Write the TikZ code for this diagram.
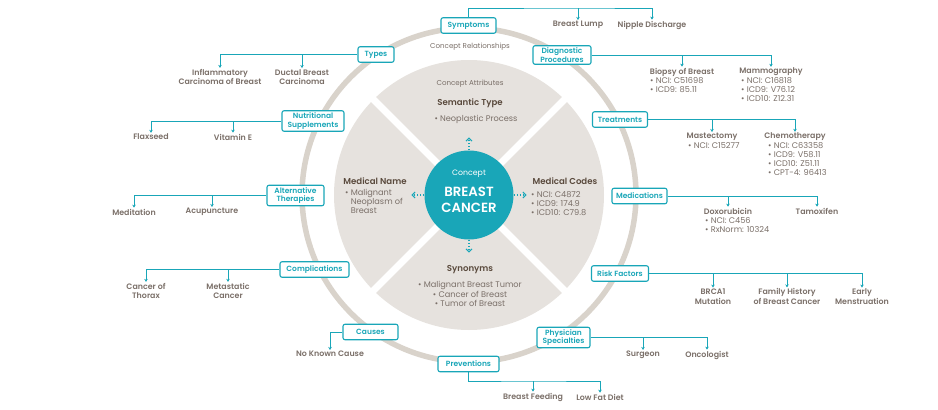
\documentclass[tikz,border=0pt]{standalone}
\usepackage{fontspec}
\setmainfont{Poppins}[BoldFont={Poppins SemiBold}]
\usetikzlibrary{arrows.meta,calc}
\definecolor{tealc}{HTML}{19A6B8}
\definecolor{discc}{HTML}{E6E2DE}
\definecolor{ringc}{HTML}{D9D3CB}
\definecolor{itemc}{HTML}{7A6F68}
\definecolor{headc}{HTML}{5A4A3D}
\begin{document}
\begin{tikzpicture}[x=1pt,y=-1pt,
 box/.style={draw=tealc, fill=white, line width=1.1pt, rounded corners=2pt, text=tealc,
   font=\fontsize{7.5}{8.6}\selectfont\bfseries, align=center, inner xsep=2pt, inner ysep=2pt, minimum height=15.5pt},
 item/.style={text=itemc, font=\fontsize{7.9}{9.6}\selectfont\bfseries, align=center, inner sep=1pt},
 bul/.style={text=itemc, font=\fontsize{8.2}{8.9}\selectfont, align=left, inner sep=0pt, anchor=north west},
 bulc/.style={text=itemc, font=\fontsize{8.2}{9.4}\selectfont, align=center, inner sep=0pt},
 small/.style={text=itemc, font=\fontsize{7.1}{8}\selectfont, inner sep=0pt},
 head/.style={text=headc, font=\fontsize{8.6}{9.5}\selectfont\bfseries, inner sep=0pt},
 conn/.style={draw=tealc, line width=0.9pt},
 arr/.style={conn, -{Stealth[length=3pt,width=3.5pt]}},
 dotarr/.style={draw=tealc, line width=1.1pt, dotted, -{Straight Barb[length=3pt,width=6pt]}}
]
\useasboundingbox (0,0) rectangle (938,410);
% ring and disc
\draw[ringc, line width=5.5pt] (469,195) circle[radius=167];
\fill[discc] (469,195) circle[radius=135];
\draw[white, line width=7pt] (469,195) ++(45:140) -- ++(225:280);
\draw[white, line width=7pt] (469,195) ++(135:140) -- ++(315:280);
% concept
\node[circle, fill=tealc, minimum size=89pt, inner sep=0pt] (concept) at (469,195) {};
\node[text=white, font=\fontsize{7.8}{8}\selectfont, inner sep=0pt] (clabel) at (469,174) {Concept};
\node[text=white, font=\fontsize{13.3}{15.5}\selectfont\bfseries, align=center, inner sep=0pt] (cname) at (469,200) {BREAST\\CANCER};
\draw[dotarr] (concept.north) -- ++(0,-13);
\draw[dotarr] (concept.south) -- ++(0,13);
\draw[dotarr] (concept.west) -- ++(-13,0);
\draw[dotarr] (concept.east) -- ++(13,0);
% attributes
\node[small] (crel) at (470,47) {Concept Relationships};
\node[small] (cattr) at (470,84) {Concept Attributes};
\node[head] (sem) at (470,103) {Semantic Type};
\node[bulc] (semb) at (476,119) {• Neoplastic Process};
\node[head] (mname) at (375,181) {Medical Name};
\node[bul] (mnameb) at (345,189) {• Malignant\\\hphantom{• }Neoplasm of\\\hphantom{• }Breast};
\node[head] (mcodes) at (565,181) {Medical Codes};
\node[bul] (mcodesb) at (531,191) {• NCI: C4872\\• ICD9: 174.9\\• ICD10: C79.8};
\node[head] (syn) at (470,270) {Synonyms};
\node[bulc] (synb) at (470,294) {• Malignant Breast Tumor\\• Cancer of Breast\\• Tumor of Breast};
% boxes
\node[box, minimum width=55pt] (symp) at (468.5,25.5) {Symptoms};
\node[box, minimum width=36pt] (types) at (376,54.5) {Types};
\node[box, minimum width=58pt] (diag) at (562,55) {Diagnostic\\Procedures};
\node[box, minimum width=62pt] (nutri) at (313,121) {Nutritional\\Supplements};
\node[box, minimum width=55pt] (treat) at (620,119.5) {Treatments};
\node[box, minimum width=57pt] (alt) at (295.5,195.5) {Alternative\\Therapies};
\node[box, minimum width=55pt] (meds) at (639.5,196) {Medications};
\node[box, minimum width=69pt] (comp) at (314.5,269.5) {Complications};
\node[box, minimum width=57pt] (risk) at (620,273.5) {Risk Factors};
\node[box, minimum width=55pt] (causes) at (370.5,332) {Causes};
\node[box, minimum width=53pt] (phys) at (563.5,337.5) {Physician\\Specialties};
\node[box, minimum width=61pt] (prev) at (468.5,364) {Preventions};
% items
\node[item] (lump) at (578,25) {Breast Lump};
\node[item] (disch) at (652,25) {Nipple Discharge};
\node[item] (infl) at (220,77) {Inflammatory\\Carcinoma of Breast};
\node[item] (ductal) at (302,77) {Ductal Breast\\Carcinoma};
\node[item] (biopsy) at (682,72) {Biopsy of Breast};
\node[bul] (biopsyb) at (650,77.5) {• NCI: C51698\\• ICD9: 85.11};
\node[item] (mammo) at (771,72) {Mammography};
\node[bul] (mammob) at (741,77.5) {• NCI: C16818\\• ICD9: V76.12\\• ICD10: Z12.31};
\node[item] (flax) at (151,137) {Flaxseed};
\node[item] (vite) at (233,137) {Vitamin E};
\node[item] (mast) at (712,137) {Mastectomy};
\node[bul] (mastb) at (688,142.5) {• NCI: C15277};
\node[item] (chemo) at (795,137) {Chemotherapy};
\node[bul] (chemob) at (768,142.5) {• NCI: C63358\\• ICD9: V58.11\\• ICD10: Z51.11\\• CPT-4: 96413};
\node[item] (medit) at (134,212) {Meditation};
\node[item] (acup) at (212,212) {Acupuncture};
\node[item] (doxo) at (728,211) {Doxorubicin};
\node[bul] (doxob) at (705,217) {• NCI: C456\\• RxNorm: 10324};
\node[item] (tamox) at (817,211) {Tamoxifen};
\node[item] (thorax) at (146,291) {Cancer of\\Thorax};
\node[item] (meta) at (228,291) {Metastatic\\Cancer};
\node[item] (brca) at (713,296.5) {BRCA1\\Mutation};
\node[item] (fam) at (787,296.5) {Family History\\of Breast Cancer};
\node[item] (early) at (862,296.5) {Early\\Menstruation};
\node[item] (nkc) at (330,354) {No Known Cause};
\node[item] (surg) at (643,355) {Surgeon};
\node[item] (onco) at (707,355) {Oncologist};
\node[item] (bfeed) at (533,397) {Breast Feeding};
\node[item] (lowfat) at (600,397) {Low Fat Diet};
% connectors
\coordinate (sbus) at (578,8);
\draw[arr] (symp.north) |- (sbus) -| (disch.north);
\draw[arr] (sbus) -- (lump.north);
\draw[arr] (types.west) -| (infl.north);
\draw[arr] (types.west -| ductal.north) -- (ductal.north);
\draw[arr] (diag.east) -| (mammo.north);
\draw[arr] (diag.east -| biopsy.north) -- (biopsy.north);
\draw[arr] (nutri.west) -| (flax.north);
\draw[arr] (nutri.west -| vite.north) -- (vite.north);
\draw[arr] (treat.east) -| (chemo.north);
\draw[arr] (treat.east -| mast.north) -- (mast.north);
\draw[arr] (alt.west) -| (medit.north);
\draw[arr] (alt.west -| acup.north) -- (acup.north);
\draw[arr] (meds.east) -| (tamox.north);
\draw[arr] (meds.east -| doxo.north) -- (doxo.north);
\draw[arr] (comp.west) -| (thorax.north);
\draw[arr] (comp.west -| meta.north) -- (meta.north);
\draw[arr] (risk.east) -| (early.north);
\draw[arr] (risk.east -| brca.north) -- (brca.north);
\draw[arr] (risk.east -| fam.north) -- (fam.north);
\draw[arr] (causes.west) -| (nkc.north);
\draw[arr] (phys.east) -| (onco.north);
\draw[arr] (phys.east -| surg.north) -- (surg.north);
\coordinate (pbus) at (533,381);
\draw[arr] (prev.south) |- (pbus) -| (lowfat.north);
\draw[arr] (pbus) -- (bfeed.north);
\end{tikzpicture}
\end{document}
